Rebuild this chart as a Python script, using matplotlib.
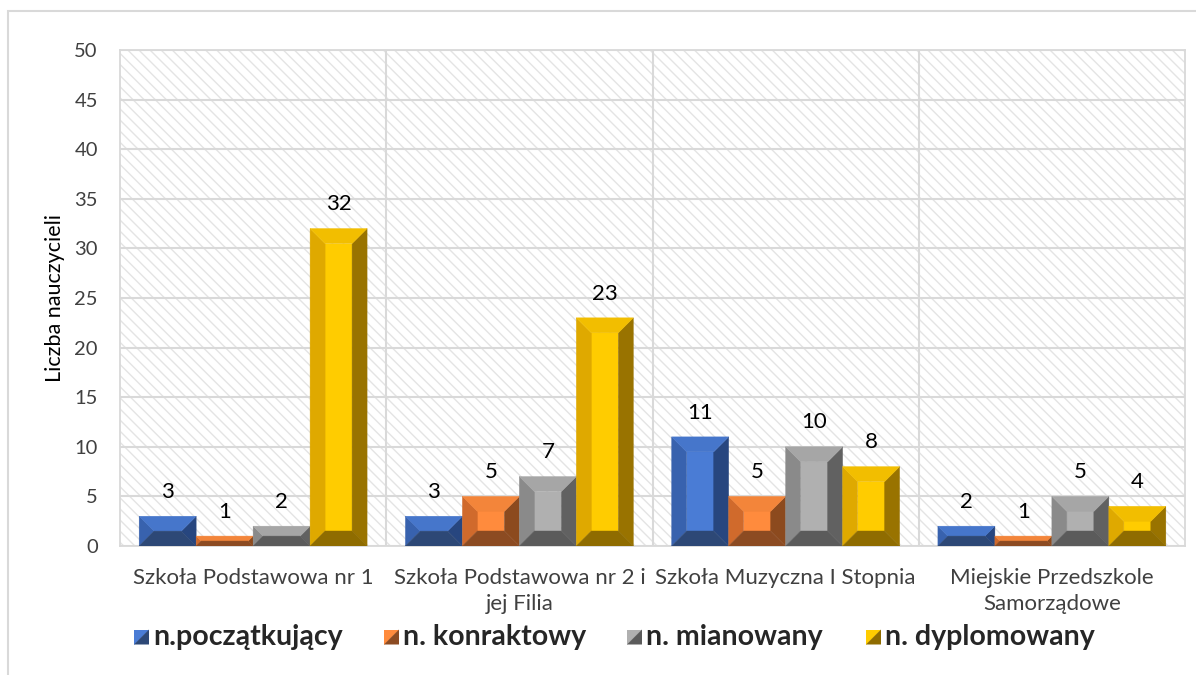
import matplotlib
matplotlib.use("Agg")
import matplotlib.pyplot as plt
from matplotlib.patches import Polygon, Rectangle
from matplotlib import transforms
import numpy as np

# --- data -------------------------------------------------------------
categories = [
    "Szkoła Podstawowa nr 1",
    "Szkoła Podstawowa nr 2 i\njej Filia",
    "Szkoła Muzyczna I Stopnia",
    "Miejskie Przedszkole\nSamorządowe",
]
series_names = ["n.początkujący", "n. konraktowy", "n. mianowany", "n. dyplomowany"]
poczatkujacy = [3, 3, 11, 2]
kontraktowy = [1, 5, 5, 1]
mianowany = [2, 7, 10, 5]
dyplomowany = [32, 23, 8, 4]
series_values = [poczatkujacy, kontraktowy, mianowany, dyplomowany]
y_ticks = [0, 5, 10, 15, 20, 25, 30, 35, 40, 45, 50]
y_label = "Liczba nauczycieli"

# bevel shading per series: front, top, left, right, bottom
shades = [
    dict(front="#4A7CD5", top="#4676CB", left="#3862AE", right="#27467F", bottom="#2D4876"),
    dict(front="#FF8B3D", top="#F3853A", left="#D06A2C", right="#8C4A1E", bottom="#8C4B22"),
    dict(front="#B0B0B0", top="#A6A6A6", left="#8A8A8A", right="#616161", bottom="#5B5B5B"),
    dict(front="#FFCC00", top="#F2BE00", left="#DFA900", right="#997300", bottom="#8F6C00"),
]

FONT = "Lato"
plt.rcParams["font.family"] = [FONT, "DejaVu Sans"]

W, H, DPI = 1196, 675, 100
fig = plt.figure(figsize=(W / DPI, H / DPI), dpi=DPI)

ax_l, ax_r, ax_b, ax_t = 120, 1185, 546, 50
ax = fig.add_axes([ax_l / W, 1 - ax_b / H, (ax_r - ax_l) / W, (ax_b - ax_t) / H])
ncat = len(categories)
ax.set_xlim(0, ncat)
ax.set_ylim(0, 50)

# outer chart frame
fig.add_artist(Rectangle((8 / W, -0.1), 1.2, 1 - 11 / H + 0.1, transform=fig.transFigure,
                         facecolor="none", edgecolor="#D9D9D9", lw=1.5, zorder=0))

# hatched plot area
plt.rcParams["hatch.linewidth"] = 1.0
ax.add_patch(Rectangle((0, 0), 1, 1, transform=ax.transAxes, facecolor="white",
                       edgecolor="#E4E4E4", hatch="\\\\\\", lw=0, zorder=0))

for s in ax.spines.values():
    s.set_color("#D9D9D9")
    s.set_linewidth(1.3)
ax.set_yticks(y_ticks)
ax.set_xticks([])
ax.grid(axis="y", color="#D9D9D9", lw=1.5, zorder=1)
ax.set_axisbelow(True)
for k in range(1, ncat):
    ax.axvline(k, color="#D9D9D9", lw=1.5, zorder=1)
ax.tick_params(axis="y", length=0, pad=16, labelsize=14.5, labelcolor="#404040")
ax.set_ylabel(y_label, fontsize=15.5, color="#000000", labelpad=7)

# pixel -> data conversion for bevel size
px_x = ncat / (ax_r - ax_l)
px_y = 50 / (ax_b - ax_t)
BEVEL = 15  # px

bar_w = 0.214
nser = len(series_values)
centers = np.arange(ncat) + 0.5


def bevel_bar(x0, w, h, sh):
    b = min(BEVEL, w / px_x / 2, h / px_y / 2)
    bx, by = b * px_x, b * px_y
    x1 = x0 + w
    parts = [
        ("front", [(x0 + bx, by), (x1 - bx, by), (x1 - bx, h - by), (x0 + bx, h - by)]),
        ("left", [(x0, 0), (x0 + bx, by), (x0 + bx, h - by), (x0, h)]),
        ("right", [(x1, 0), (x1 - bx, by), (x1 - bx, h - by), (x1, h)]),
        ("top", [(x0, h), (x1, h), (x1 - bx, h - by), (x0 + bx, h - by)]),
        ("bottom", [(x0, 0), (x1, 0), (x1 - bx, by), (x0 + bx, by)]),
    ]
    for name, pts in parts:
        ax.add_patch(Polygon(pts, closed=True, facecolor=sh[name], edgecolor=sh[name],
                             lw=0.3, zorder=3))


for si, vals in enumerate(series_values):
    for ci, v in enumerate(vals):
        x0 = centers[ci] + (si - nser / 2) * bar_w
        bevel_bar(x0, bar_w, v, shades[si])
        ax.annotate(str(v), (x0 + bar_w / 2, v), xytext=(0, 17.5), textcoords="offset points",
                    ha="center", va="center", fontsize=16, color="#000000", zorder=4)

# category labels below the plot area
lab_tr = transforms.offset_copy(ax.get_xaxis_transform(), fig=fig, x=0, y=-16,
                                units="points")
for ci, name in enumerate(categories):
    ax.text(centers[ci], 0, name, transform=lab_tr, ha="center", va="top", fontsize=16,
            color="#404040", linespacing=1.38)

# legend with split-square markers
leg_y = 637
marker_x = [134, 384, 627, 866]
msz = 15
for si, name in enumerate(series_names):
    mx = marker_x[si]
    x0, x1 = mx / W, (mx + msz) / W
    y0, y1 = 1 - (leg_y + msz / 2) / H, 1 - (leg_y - msz / 2) / H
    fig.add_artist(Polygon([(x0, y0), (x0, y1), (x1, y1)], closed=True, transform=fig.transFigure,
                           facecolor=shades[si]["front"], edgecolor="none"))
    fig.add_artist(Polygon([(x0, y0), (x1, y1), (x1, y0)], closed=True, transform=fig.transFigure,
                           facecolor=shades[si]["bottom"], edgecolor="none"))
    fig.text((mx + msz + 4) / W, 1 - leg_y / H, name, ha="left", va="center", fontsize=20.5,
             fontweight="bold", color="#262626")

fig.savefig("out.png", dpi=DPI)
